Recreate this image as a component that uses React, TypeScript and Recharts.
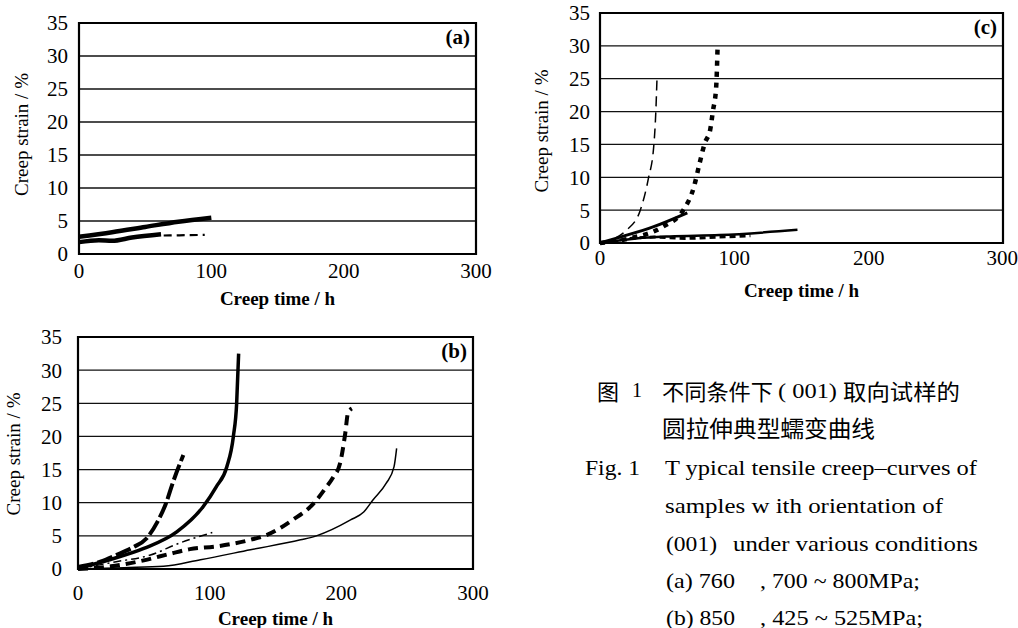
import React from 'react';
import { LineChart, Line, XAxis, YAxis, CartesianGrid, ReferenceArea } from 'recharts';

const timeTicks = [0, 100, 200, 300];
const strainTicks = [0, 5, 10, 15, 20, 25, 30, 35];

// (a) 760, 700~800MPa  [time h, strain %]
const a1 = [[0, 2.6], [25, 3.3], [50, 4.1], [75, 4.9], [100, 5.5]];
const a2 = [[0, 1.8], [15, 2.1], [25, 2.0], [40, 2.5], [62, 3.0]];
const a3 = [[64, 2.8], [80, 2.85], [95, 2.9]];

// (b) 850, 425~525MPa
const b1 = [[0, 0.3], [17, 1.1], [29, 2.1], [42, 3.3], [52, 4.6], [60, 7.0], [67, 10], [72, 13], [80, 17.2]];
const b2 = [[0, 0.1], [24, 1.4], [50, 3.1], [75, 5.6], [95, 9.4], [105, 12.4], [113, 15.4], [118, 20], [120.5, 25], [122, 32.5]];
const b3 = [[0, 0], [29, 1.1], [55, 2.1], [77, 3.9], [102, 5.5]];
const b4 = [[0, 0], [25, 0.4], [50, 1.3], [70, 2.3], [85, 3.0], [105, 3.4], [131, 4.4], [143, 5.1], [163, 7.4], [179, 9.9], [188, 12.2], [194, 13.9], [199, 15.9], [203, 20.5], [205, 23.5], [208, 24.2]];
const b5 = [[0, 0], [35, 0.2], [65, 0.4], [93, 1.4], [131, 2.9], [169, 4.4], [181, 5], [207, 7.4], [217, 8.6], [224, 10.4], [234, 12.9], [240, 15.4], [242, 18.2]];

// (c)
const c1 = [[0, 0], [20, 2], [30, 5], [36, 9.8], [40, 14.7], [41.5, 19.7], [42.5, 25.5]];
const c2 = [[0, 0], [22, 0.7], [47, 2.5], [62, 5], [70, 8.6], [74, 12], [78, 15.2], [82, 17.2], [84, 20], [86.5, 23.8], [87.5, 29.6]];
const c3 = [[0, 0], [15, 0.9], [40, 2.5], [65, 4.6]];
const c4 = [[0, 0], [27, 0.7], [52, 1], [89, 1.2], [147, 2]];
const c5 = [[0, 0], [40, 0.9], [64, 0.7], [89, 0.9], [112, 1.1]];

const serif = '"Liberation Serif", "DejaVu Serif", serif';
const cjk = '"Noto Sans CJK SC", sans-serif';

const toPts = (arr: number[][]) => arr.map(([t, s]) => ({ t, s }));

interface Curve {
  pts: number[][];
  width: number;
  dash?: string;
}

const XTitle = (props: any) => {
  const vb = props.viewBox || {};
  return (
    <text x={vb.x + vb.width / 2} y={vb.y + props.gap} textAnchor="middle" dominantBaseline="central"
      style={{ fontFamily: serif }} fontSize={19} fontWeight="bold" fill="#000">Creep time / h</text>
  );
};

const YTitle = (props: any) => {
  const vb = props.viewBox || {};
  const cy = vb.y + vb.height / 2 + props.dy;
  return (
    <text x={props.cx} y={cy} transform={`rotate(-90 ${props.cx} ${cy})`} textAnchor="middle" dominantBaseline="central"
      style={{ fontFamily: serif }} fontSize={19} fill="#000">Creep strain / %</text>
  );
};

interface PanelProps {
  tag: string;
  curves: Curve[];
  left: number;
  top: number;
  width: number;
  height: number;
  margin: { top: number; right: number; bottom: number; left: number };
  xGap: number;
  yGap: number;
  xTitleGap: number;
  yTitleX: number;
  yTitleDy: number;
}

const tickStyle = { fill: '#000', fontSize: 21, fontFamily: serif, style: { fontFamily: serif } };

function Panel(p: PanelProps) {
  return (
    <div style={{ position: 'absolute', left: p.left, top: p.top, fontFamily: serif }}>
      <LineChart width={p.width} height={p.height} margin={p.margin} style={{ fontFamily: serif }}>
        <CartesianGrid vertical={false} stroke="#111" strokeWidth={1.3} />
        <XAxis type="number" dataKey="t" domain={[0, 300]} ticks={timeTicks} height={40}
          axisLine={false} tickLine={false} tickSize={0} tickMargin={p.xGap}
          tick={tickStyle}
          label={<XTitle gap={p.xTitleGap} />} />
        <YAxis type="number" domain={[0, 35]} ticks={strainTicks} width={60}
          axisLine={false} tickLine={false} tickSize={0} tickMargin={p.yGap}
          tick={tickStyle}
          label={<YTitle cx={p.yTitleX} dy={p.yTitleDy} />} />
        <ReferenceArea x1={0} x2={300} y1={0} y2={35} fill="none" stroke="#000" strokeWidth={2.2}
          label={{ value: p.tag, position: 'insideTopRight', offset: 6, fill: '#000', fontSize: 21, fontWeight: 'bold', fontFamily: serif }} />
        {p.curves.map((c, i) => (
          <Line key={i} data={toPts(c.pts)} dataKey="s" type="monotone" stroke="#000"
            strokeWidth={c.width} strokeDasharray={c.dash} dot={false} isAnimationActive={false} />
        ))}
      </LineChart>
    </div>
  );
}

const curvesA: Curve[] = [
  { pts: a1, width: 4.5 },
  { pts: a2, width: 4.5 },
  { pts: a3, width: 2.2, dash: '8 5' },
];

const curvesB: Curve[] = [
  { pts: b1, width: 4, dash: '16 4' },
  { pts: b2, width: 3.5 },
  { pts: b3, width: 1.5, dash: '8 4 2 4' },
  { pts: b4, width: 4, dash: '10 6' },
  { pts: b5, width: 1.5 },
];

const curvesC: Curve[] = [
  { pts: c1, width: 1.5, dash: '10 6' },
  { pts: c2, width: 4.5, dash: '5 6' },
  { pts: c3, width: 3 },
  { pts: c4, width: 2.5 },
  { pts: c5, width: 3, dash: '6 4' },
];

export default function App() {
  const en = { fontFamily: serif, fontSize: 22, fill: '#000', dominantBaseline: 'central' as const, lengthAdjust: 'spacingAndGlyphs' as const };
  const zh = { fontFamily: cjk, fill: '#000', dominantBaseline: 'central' as const, lengthAdjust: 'spacingAndGlyphs' as const };
  return (
    <div style={{ position: 'absolute', left: 0, top: 0, width: 1018, height: 628, background: '#fff', overflow: 'hidden', fontFamily: serif }}>
      <svg width={1018} height={628} style={{ position: 'absolute', left: 0, top: 0 }}>
        <text x={597} y={390} fontSize={22} {...zh}>图</text>
        <text x={632} y={390} {...en} fontSize={20}>1</text>
        <text x={662} y={390} fontSize={22} textLength={111} {...zh}>不同条件下</text>
        <text x={778} y={390} {...en} textLength={59}>( 001)</text>
        <text x={843} y={390} fontSize={22} textLength={117} {...zh}>取向试样的</text>
        <text x={662} y={427} fontSize={23} textLength={213} {...zh}>圆拉伸典型蠕变曲线</text>
        <text x={585} y={467} textLength={55} {...en}>Fig. 1</text>
        <text x={665} y={467} textLength={312} {...en}>T ypical tensile creep–curves of</text>
        <text x={665} y={505} textLength={278} {...en}>samples w ith orientation of</text>
        <text x={666} y={543} textLength={51} {...en}>(001)</text>
        <text x={733} y={543} textLength={245} {...en}>under various conditions</text>
        <text x={666} y={580} textLength={69} {...en}>(a) 760</text>
        <text x={760} y={580} textLength={160} {...en}>, 700 ~ 800MPa;</text>
        <text x={666} y={617} textLength={69} {...en}>(b) 850</text>
        <text x={760} y={617} textLength={163} {...en}>, 425 ~ 525MPa;</text>
      </svg>
      <Panel tag="(a)" curves={curvesA} left={0} top={0} width={500} height={310}
        margin={{ top: 23, right: 24, bottom: 16, left: 19 }} xGap={9} yGap={11} xTitleGap={44} yTitleX={21} yTitleDy={-4} />
      <Panel tag="(b)" curves={curvesB} left={0} top={310} width={500} height={318}
        margin={{ top: 27, right: 27, bottom: 19, left: 18 }} xGap={16} yGap={16} xTitleGap={49} yTitleX={13} yTitleDy={1} />
      <Panel tag="(c)" curves={curvesC} left={520} top={0} width={498} height={310}
        margin={{ top: 13, right: 15, bottom: 27, left: 20 }} xGap={7} yGap={10} xTitleGap={47} yTitleX={21} yTitleDy={3} />
    </div>
  );
}
